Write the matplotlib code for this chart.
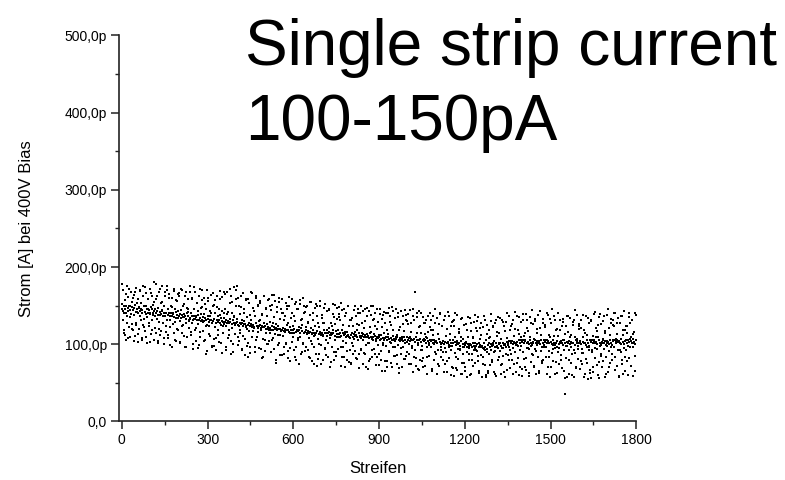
import numpy as np
import matplotlib
matplotlib.use("Agg")
import matplotlib.pyplot as plt
from matplotlib.ticker import MultipleLocator, FuncFormatter

plt.rcParams['font.family'] = ['Liberation Sans', 'DejaVu Sans']

# strip current in pA for the even strips (0, 2, 4, ... 1798)
strom_gerade = [
    146, 178, 143, 118, 149, 112, 145, 165, 141, 128, 147, 108, 150, 172, 144, 135, 139, 120, 148, 160,
    144, 104, 147, 168, 142, 125, 146, 153, 140, 113, 148, 170, 143, 131, 145, 106, 141, 163, 149, 122,
    142, 174, 139, 110, 146, 158, 141, 127, 144, 103, 140, 166, 145, 119, 138, 151, 143, 180, 137, 115,
    140, 162, 143, 101, 138, 129, 142, 171, 139, 117, 144, 155, 137, 108, 141, 167, 136, 124, 140, 176,
    138, 112, 141, 160, 136, 99, 140, 148, 137, 126, 139, 169, 135, 106, 142, 157, 138, 120, 134, 165,
    136, 103, 139, 172, 134, 123, 138, 150, 135, 111, 137, 163, 133, 97, 140, 145, 136, 130, 132, 168,
    134, 116, 137, 158, 132, 100, 136, 174, 133, 121, 135, 154, 131, 95, 138, 163, 134, 109, 130, 147,
    132, 170, 135, 104, 130, 152, 134, 88, 131, 125, 133, 160, 129, 113, 136, 143, 132, 98, 128, 166,
    130, 107, 133, 157, 128, 93, 132, 148, 129, 119, 131, 169, 127, 101, 134, 161, 130, 124, 126, 140,
    129, 165, 131, 96, 127, 142, 130, 112, 128, 172, 129, 104, 126, 155, 132, 90, 128, 137, 125, 159,
    127, 176, 129, 99, 125, 150, 128, 114, 126, 163, 127, 92, 124, 145, 130, 107, 126, 158, 123, 120,
    125, 101, 127, 154, 123, 89, 126, 166, 124, 117, 125, 143, 122, 96, 128, 160, 124, 110, 121, 150,
    123, 156, 125, 94, 121, 139, 124, 84, 122, 162, 123, 106, 120, 147, 126, 100, 122, 159, 119, 115,
    121, 90, 123, 151, 119, 108, 122, 164, 120, 76, 121, 142, 118, 99, 124, 155, 120, 112, 117, 146,
    119, 158, 121, 87, 117, 136, 120, 102, 118, 149, 119, 82, 116, 161, 122, 95, 118, 140, 115, 110,
    118, 93, 120, 152, 116, 79, 119, 145, 117, 106, 118, 157, 115, 88, 121, 133, 117, 100, 114, 150,
    116, 91, 118, 148, 114, 127, 117, 84, 115, 155, 116, 104, 113, 78, 119, 141, 115, 97, 112, 152,
    115, 137, 117, 81, 113, 100, 116, 150, 114, 74, 115, 128, 112, 147, 118, 95, 114, 86, 111, 143,
    114, 102, 116, 145, 112, 77, 115, 124, 113, 139, 114, 90, 111, 151, 117, 85, 113, 133, 110, 148,
    113, 131, 115, 72, 111, 144, 114, 96, 112, 83, 113, 137, 110, 79, 116, 149, 112, 110, 109, 92,
    112, 75, 114, 134, 110, 98, 113, 150, 111, 82, 112, 126, 109, 146, 115, 88, 111, 141, 108, 93,
    111, 143, 113, 89, 109, 130, 112, 71, 110, 147, 111, 101, 108, 78, 114, 138, 110, 84, 107, 149,
    109, 94, 111, 124, 107, 73, 110, 146, 108, 87, 109, 139, 106, 80, 112, 133, 108, 99, 105, 142,
    108, 128, 110, 70, 106, 140, 109, 91, 107, 136, 108, 76, 105, 148, 111, 96, 107, 85, 104, 145,
    107, 86, 109, 141, 105, 69, 108, 122, 106, 95, 107, 137, 104, 81, 110, 144, 106, 131, 103, 90,
    106, 139, 108, 74, 104, 127, 107, 98, 105, 146, 106, 83, 103, 167, 109, 72, 105, 135, 102, 143,
    105, 79, 107, 141, 103, 92, 106, 70, 104, 128, 105, 113, 102, 84, 108, 137, 104, 99, 101, 122,
    104, 132, 106, 68, 102, 118, 105, 145, 103, 87, 104, 101, 101, 74, 107, 126, 103, 139, 100, 93,
    102, 90, 104, 64, 100, 136, 103, 111, 101, 78, 102, 142, 99, 96, 105, 123, 101, 70, 98, 130,
    101, 124, 103, 140, 99, 83, 102, 67, 100, 115, 101, 94, 98, 133, 104, 62, 100, 107, 97, 76,
    99, 71, 101, 118, 97, 135, 100, 88, 98, 60, 99, 127, 96, 80, 102, 109, 98, 138, 95, 93,
    98, 130, 100, 85, 96, 63, 99, 121, 97, 112, 98, 74, 95, 136, 101, 92, 97, 58, 94, 125,
    99, 66, 101, 108, 97, 139, 100, 79, 98, 124, 99, 90, 96, 61, 102, 131, 98, 116, 95, 84,
    100, 134, 102, 73, 98, 95, 101, 129, 99, 64, 100, 117, 97, 140, 103, 86, 99, 104, 96, 69,
    102, 88, 104, 126, 100, 62, 103, 142, 101, 99, 102, 76, 99, 119, 105, 135, 101, 71, 98, 110,
    103, 139, 105, 81, 101, 114, 104, 67, 102, 131, 103, 95, 100, 59, 106, 127, 102, 144, 99, 86,
    103, 72, 105, 133, 101, 91, 104, 120, 102, 63, 103, 143, 100, 105, 106, 78, 102, 128, 99, 97,
    103, 125, 105, 61, 101, 138, 104, 83, 102, 110, 103, 70, 100, 146, 106, 94, 102, 131, 99, 77,
    102, 96, 104, 140, 100, 74, 103, 118, 101, 86, 102, 133, 99, 65, 105, 36, 101, 123, 98, 58,
    102, 137, 104, 80, 100, 112, 103, 60, 101, 129, 102, 92, 99, 144, 105, 71, 101, 107, 98, 126,
    102, 68, 104, 121, 100, 89, 103, 138, 101, 57, 102, 115, 99, 76, 105, 134, 101, 97, 98, 63,
    103, 130, 105, 93, 101, 64, 104, 142, 102, 109, 103, 73, 100, 125, 106, 56, 102, 139, 99, 85,
    103, 78, 105, 136, 101, 117, 104, 62, 102, 98, 103, 145, 100, 70, 106, 127, 102, 88, 99, 132,
    104, 141, 106, 67, 102, 104, 105, 128, 103, 59, 104, 92, 101, 137, 107, 75, 103, 119, 100, 143,
    104, 84, 106, 124, 102, 60, 105, 140, 103, 96, 104, 72, 101, 131, 107, 113, 103, 66, 100, 138,
]

# strip current in pA for the odd strips (1, 3, 5, ... 1799)
strom_ungerade = [
    152, 131, 170, 140, 115, 157, 149, 106, 176, 137, 143, 161, 122, 150, 110, 167, 139, 126, 155, 118,
    164, 138, 111, 151, 173, 128, 142, 103, 158, 147, 120, 169, 136, 153, 108, 144, 176, 125, 149, 133,
    117, 150, 166, 135, 102, 146, 159, 124, 139, 172, 113, 148, 131, 163, 140, 106, 155, 121, 145, 178,
    159, 133, 104, 147, 168, 120, 138, 112, 154, 143, 175, 127, 136, 100, 149, 163, 116, 140, 131, 170,
    108, 145, 165, 132, 122, 150, 137, 97, 160, 141, 114, 171, 129, 146, 104, 134, 156, 119, 143, 166,
    162, 130, 101, 144, 170, 115, 135, 125, 152, 139, 96, 167, 128, 147, 110, 142, 158, 121, 133, 175,
    112, 141, 160, 128, 94, 146, 133, 119, 168, 137, 104, 153, 126, 143, 99, 131, 172, 116, 139, 157,
    148, 129, 117, 160, 139, 105, 145, 124, 170, 91, 136, 156, 123, 131, 111, 164, 141, 97, 127, 150,
    98, 151, 122, 141, 108, 127, 162, 112, 136, 146, 103, 138, 158, 125, 89, 143, 129, 115, 167, 134,
    145, 124, 92, 139, 168, 108, 128, 119, 154, 133, 87, 163, 121, 140, 100, 135, 174, 113, 126, 150,
    170, 133, 109, 160, 124, 104, 139, 119, 148, 94, 131, 166, 111, 126, 141, 86, 122, 157, 135, 98,
    84, 159, 117, 138, 97, 132, 167, 110, 122, 147, 143, 121, 90, 136, 163, 105, 124, 116, 151, 130,
    95, 131, 154, 118, 82, 138, 122, 107, 162, 128, 91, 145, 115, 136, 100, 120, 157, 104, 129, 149,
    144, 118, 106, 164, 128, 94, 135, 113, 156, 79, 126, 148, 112, 120, 101, 160, 133, 86, 117, 140,
    86, 141, 111, 132, 96, 116, 153, 100, 125, 145, 91, 127, 150, 114, 78, 134, 118, 103, 158, 124,
    137, 114, 83, 130, 155, 97, 117, 108, 146, 122, 75, 152, 110, 131, 90, 125, 160, 102, 115, 141,
    142, 122, 97, 150, 113, 93, 129, 108, 138, 82, 121, 155, 100, 115, 131, 74, 111, 147, 124, 87,
    72, 149, 107, 128, 87, 122, 156, 99, 112, 138, 134, 111, 80, 127, 152, 94, 114, 105, 143, 119,
    84, 121, 144, 108, 71, 128, 112, 97, 152, 118, 79, 135, 105, 126, 90, 110, 147, 94, 119, 139,
    135, 109, 96, 153, 119, 84, 125, 104, 146, 70, 116, 140, 102, 111, 91, 149, 124, 77, 108, 131,
    76, 132, 102, 123, 87, 107, 144, 91, 116, 136, 81, 118, 141, 105, 69, 125, 110, 94, 149, 115,
    128, 105, 74, 121, 146, 88, 109, 99, 137, 113, 68, 143, 101, 122, 81, 116, 150, 93, 106, 132,
    133, 113, 88, 141, 104, 84, 120, 99, 129, 73, 112, 146, 91, 107, 122, 66, 102, 138, 115, 78,
    65, 140, 98, 119, 78, 113, 147, 90, 103, 129, 125, 102, 71, 118, 143, 85, 106, 96, 134, 110,
    75, 112, 135, 99, 63, 119, 104, 88, 143, 109, 70, 126, 96, 117, 81, 101, 138, 85, 110, 130,
    126, 100, 87, 144, 110, 75, 116, 95, 137, 64, 107, 131, 93, 103, 82, 140, 115, 68, 99, 122,
    67, 123, 93, 114, 78, 98, 135, 82, 107, 127, 72, 109, 132, 96, 62, 116, 101, 85, 140, 106,
    119, 96, 65, 112, 137, 79, 100, 90, 128, 104, 61, 134, 92, 113, 72, 107, 141, 84, 97, 123,
    124, 104, 79, 132, 95, 75, 111, 90, 120, 64, 103, 137, 82, 98, 113, 60, 93, 129, 106, 69,
    59, 131, 89, 110, 69, 104, 138, 81, 94, 120, 116, 93, 62, 109, 134, 76, 97, 87, 125, 101,
    66, 103, 126, 90, 58, 110, 95, 79, 134, 100, 62, 117, 87, 108, 72, 92, 129, 76, 101, 121,
    117, 91, 78, 135, 101, 66, 107, 86, 128, 57, 98, 122, 84, 94, 73, 131, 106, 60, 90, 113,
    63, 118, 88, 109, 73, 93, 130, 77, 102, 122, 64, 104, 127, 91, 59, 111, 96, 80, 135, 101,
    114, 91, 61, 107, 132, 74, 95, 85, 123, 99, 58, 129, 87, 108, 67, 102, 136, 79, 92, 118,
    124, 104, 79, 132, 95, 75, 111, 90, 120, 64, 103, 137, 82, 98, 113, 60, 93, 129, 106, 68,
    59, 132, 90, 111, 70, 105, 139, 82, 95, 121, 117, 94, 63, 110, 135, 77, 98, 88, 126, 102,
    70, 107, 130, 94, 61, 114, 99, 83, 138, 104, 65, 121, 91, 112, 76, 96, 133, 80, 105, 125,
    122, 96, 83, 140, 106, 71, 112, 91, 133, 58, 103, 127, 89, 99, 78, 136, 111, 62, 95, 118,
    63, 120, 90, 111, 75, 95, 132, 79, 104, 124, 69, 106, 129, 93, 56, 113, 98, 82, 137, 103,
    116, 93, 61, 109, 134, 76, 97, 87, 125, 101, 57, 131, 89, 110, 69, 104, 138, 81, 94, 120,
    123, 103, 78, 131, 94, 74, 110, 89, 119, 62, 102, 136, 81, 97, 112, 55, 92, 128, 105, 67,
    56, 132, 90, 111, 70, 105, 139, 82, 95, 121, 117, 94, 60, 110, 135, 77, 98, 88, 126, 102,
    70, 107, 130, 94, 58, 114, 99, 83, 138, 104, 64, 121, 91, 112, 76, 96, 133, 80, 105, 125,
    123, 97, 84, 141, 107, 72, 113, 92, 134, 57, 104, 128, 90, 100, 79, 137, 112, 61, 95, 118,
    66, 123, 93, 114, 78, 98, 135, 82, 107, 127, 72, 109, 132, 96, 59, 116, 101, 85, 140, 106,
]

streifen_gerade = np.arange(0, 2 * len(strom_gerade), 2)
streifen_ungerade = np.arange(1, 2 * len(strom_ungerade), 2)

x_ticks = [0, 300, 600, 900, 1200, 1500, 1800]
y_ticks = [0, 100, 200, 300, 400, 500]


def fmt_pico(v, pos):
    if v == 0:
        return "0,0"
    return ("%.1fp" % v).replace(".", ",")


fig = plt.figure(figsize=(7.85, 4.8), dpi=100)
ax = fig.add_axes([0.1516, 0.1219, 0.6590, 0.8046])

for xs, ys in [(streifen_gerade, strom_gerade), (streifen_ungerade, strom_ungerade)]:
    ax.scatter(xs, ys, s=3.8, marker='s', c='black', linewidths=0)

ax.set_xlim(-10, 1800)
ax.set_ylim(0, 500)
ax.set_xticks(x_ticks)
ax.set_yticks(y_ticks)
ax.xaxis.set_minor_locator(MultipleLocator(150))
ax.yaxis.set_minor_locator(MultipleLocator(50))
ax.yaxis.set_major_formatter(FuncFormatter(fmt_pico))

for s in ['top', 'right']:
    ax.spines[s].set_visible(False)
for s in ['left', 'bottom']:
    ax.spines[s].set_linewidth(1.2)
    ax.spines[s].set_color('#222222')

ax.tick_params(which='major', length=5.5, width=1.1, labelsize=10, pad=3, color='#222222')
ax.tick_params(which='minor', length=3, width=1.0, color='#222222')

ax.set_xlabel('Streifen', fontsize=12, labelpad=10)
ax.set_ylabel('Strom [A] bei 400V Bias', fontsize=12, labelpad=22)

fig.text(245 / 785, 1 - 65 / 480, 'Single strip current', fontsize=46, ha='left', va='baseline')
fig.text(245 / 785, 1 - 140 / 480, '100-150pA', fontsize=46, ha='left', va='baseline')

fig.savefig('out.png', dpi=100)
